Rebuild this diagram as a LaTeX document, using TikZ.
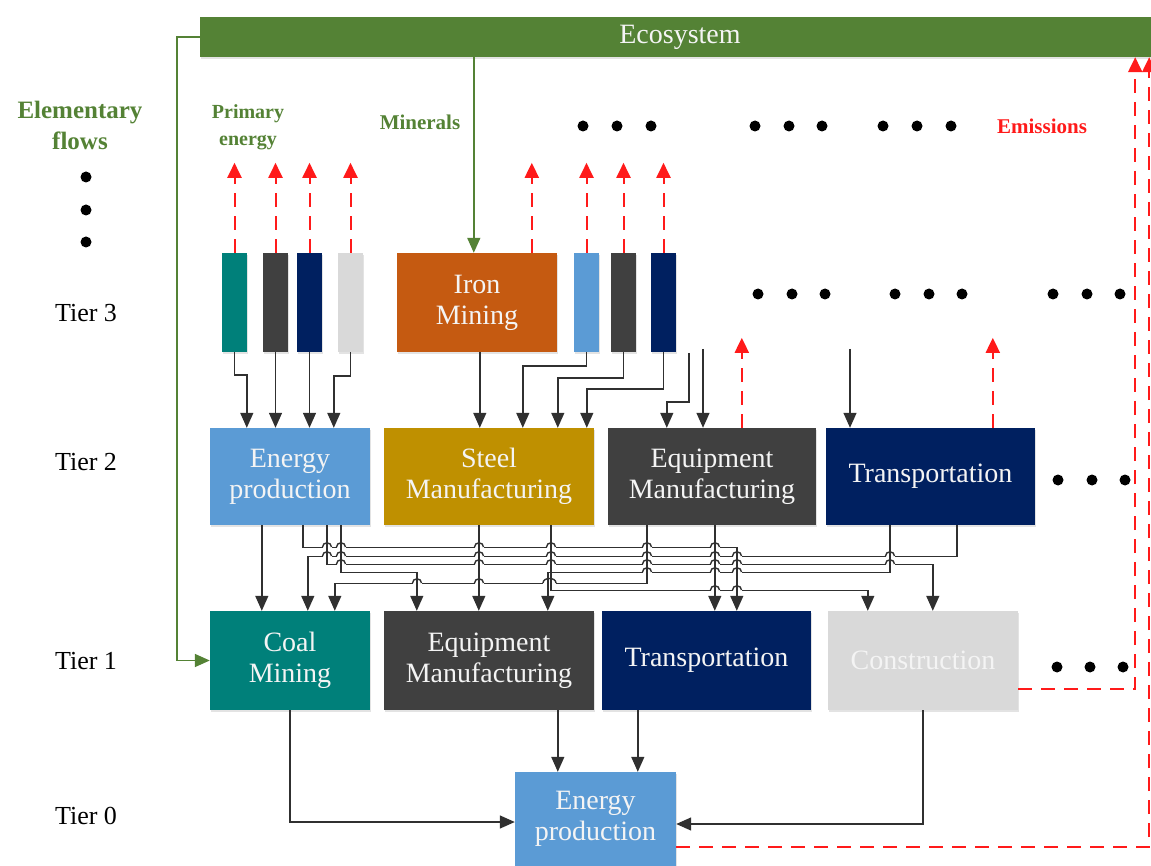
\documentclass[tikz,border=0pt]{standalone}
\usepackage{fontspec}
\setmainfont{Liberation Serif}
\usetikzlibrary{arrows.meta,shadows}
\definecolor{ecogreen}{HTML}{548235}
\definecolor{teal3}{HTML}{00807A}
\definecolor{dgrey}{HTML}{404040}
\definecolor{navy}{HTML}{002060}
\definecolor{lgrey}{HTML}{D9D9D9}
\definecolor{orng}{HTML}{C55A11}
\definecolor{lblue}{HTML}{5B9BD5}
\definecolor{gold}{HTML}{BF9000}
\definecolor{wirec}{HTML}{303030}
\definecolor{txt}{HTML}{F4F4F4}
\definecolor{emred}{HTML}{FF1A1A}
\newcommand\boxfont{\fontsize{28}{31}\selectfont}
\newcommand\crosshop[2]{%
  \fill[white] (#1-4.5,#2-1.6) rectangle (#1+4.5,#2+1.6);
  \draw[wire] (#1-4.5,#2) .. controls (#1-4.5,#2-5.5) and (#1+4.5,#2-5.5) .. (#1+4.5,#2);
  \draw[wire] (#1,#2-3) -- (#1,#2+3);}
\tikzset{
  box/.style={draw=none, inner sep=0pt, align=center, text=txt, font=\boxfont,
    drop shadow={shadow xshift=1pt, shadow yshift=-2pt, opacity=0.18, fill=black!60}},
  wire/.style={draw=wirec, line width=1.4pt},
  conn/.style={wire, -{Triangle[width=13pt,length=15pt]}},
  emis/.style={draw=emred, line width=2pt, dash pattern=on 14pt off 9pt, -{Triangle[width=14pt,length=15pt,fill=emred]}},
  gflow/.style={draw=ecogreen, line width=1.6pt, -{Triangle[width=13pt,length=15pt]}},
  lab/.style={inner sep=0pt, align=center},
}
\begin{document}
\begin{tikzpicture}[x=1pt,y=-1pt]
\useasboundingbox (0,0) rectangle (1151,866);

% Ecosystem
\node[box, fill=ecogreen, minimum width=960pt, minimum height=40pt] (eco) at (680,37) {\raisebox{-2pt}{Ecosystem}};

% labels
\node[lab, text=ecogreen, font=\bfseries\fontsize{25}{31}\selectfont] (elem) at (80,125) {Elementary\\flows};
\node[lab, text=ecogreen, font=\bfseries\fontsize{20}{27}\selectfont] (prim) at (248,127) {Primary\\energy};
\node[lab, text=ecogreen, font=\bfseries\fontsize{21}{25}\selectfont] (mine) at (420,122) {Minerals};
\node[lab, text=emred, font=\bfseries\fontsize{21}{25}\selectfont] (emi) at (1042,126) {Emissions};
\node[lab, font=\fontsize{26}{30}\selectfont] (tier3) at (86,313) {Tier 3};
\node[lab, font=\fontsize{26}{30}\selectfont] (tier2) at (86,462) {Tier 2};
\node[lab, font=\fontsize{26}{30}\selectfont] (tier1) at (86,661) {Tier 1};
\node[lab, font=\fontsize{26}{30}\selectfont] (tier0) at (86,816) {Tier 0};

% dots
\foreach \y in {177,210,242} {\fill (86,\y) circle[radius=5.5pt];}
\foreach \x in {583,617,651,755,789,822,883,917,951} {\fill (\x,126) circle[radius=5.5pt];}
\foreach \x in {758,792,825,895,929,962,1053,1087,1120} {\fill (\x,294) circle[radius=5.5pt];}
\foreach \x in {1058,1092,1125} {\fill (\x,480) circle[radius=5.5pt];}
\foreach \x in {1057,1090,1123} {\fill (\x,667) circle[radius=5.5pt];}

% Tier 3
\node[box, fill=teal3, minimum width=25pt, minimum height=99pt] (t3a) at (234.5,302.5) {};
\node[box, fill=dgrey, minimum width=25pt, minimum height=99pt] (t3b) at (275.5,302.5) {};
\node[box, fill=navy, minimum width=25pt, minimum height=99pt] (t3c) at (309.5,302.5) {};
\node[box, fill=lgrey, minimum width=25pt, minimum height=99pt] (t3d) at (350.5,302.5) {};
\node[box, fill=orng, minimum width=160pt, minimum height=99pt] (iron) at (477,302.5) {Iron\\Mining};
\node[box, fill=lblue, minimum width=25pt, minimum height=99pt] (t3e) at (586.5,302.5) {};
\node[box, fill=dgrey, minimum width=25pt, minimum height=99pt] (t3f) at (623.5,302.5) {};
\node[box, fill=navy, minimum width=25pt, minimum height=99pt] (t3g) at (663.5,302.5) {};

% Tier 2
\node[box, fill=lblue, minimum width=160pt, minimum height=97pt] (E2) at (290,476.5) {Energy\\production};
\node[box, fill=gold, minimum width=210pt, minimum height=97pt] (S2) at (489,476.5) {Steel\\Manufacturing};
\node[box, fill=dgrey, minimum width=208pt, minimum height=97pt] (Q2) at (712,476.5) {Equipment\\Manufacturing};
\node[box, fill=navy, minimum width=209pt, minimum height=97pt] (T2) at (930.5,476.5) {Transportation};

% Tier 1
\node[box, fill=teal3, minimum width=160pt, minimum height=99pt] (CM) at (290,660.5) {Coal\\Mining};
\node[box, fill=dgrey, minimum width=210pt, minimum height=99pt] (Q1) at (489,660.5) {Equipment\\Manufacturing};
\node[box, fill=navy, minimum width=209pt, minimum height=99pt] (T1) at (706.5,660.5) {Transportation};
\node[box, fill=lgrey, minimum width=190pt, minimum height=99pt] (Con) at (923,660.5) {Construction};

% Tier 0
\node[box, fill=lblue, minimum width=161pt, minimum height=94pt] (E0) at (595.5,819) {Energy\\production};

% green flows
\draw[gflow] (eco.west) -- ++(-23,0) |- (CM.west);
\draw[gflow] ([xshift=274pt]eco.south west) -- ([xshift=77pt]iron.north west);

% emissions
\foreach \n in {t3a,t3b,t3c,t3d,t3e,t3f,t3g} {\draw[emis] (\n.north) -- ++(0,-90);}
\draw[emis] ([xshift=135pt]iron.north west) -- ++(0,-90);
\draw[emis] ([xshift=134pt]Q2.north west) -- ++(0,-90);
\draw[emis] ([xshift=167pt]T2.north west) -- ++(0,-90);
\draw[emis] ([yshift=-28.5pt]Con.east) -| ([xshift=-25pt]eco.south east);
\draw[emis] ([yshift=-28pt]E0.east) -| ([xshift=-11pt]eco.south east);

% tier 3 -> tier 2
\draw[conn] (t3a.south) -- ++(0,23) -| ([xshift=37pt]E2.north west);
\draw[conn] (t3b.south) -- (t3b.south |- E2.north);
\draw[conn] (t3c.south) -- (t3c.south |- E2.north);
\draw[conn] (t3d.south) -- ++(0,24) -| ([xshift=124pt]E2.north west);
\draw[conn] ([xshift=83pt]iron.south west) -- ([xshift=96pt]S2.north west);
\draw[conn] (t3e.south) -- ++(0,14) -| ([xshift=139pt]S2.north west);
\draw[conn] (t3f.south) -- ++(0,26) -| ([xshift=174pt]S2.north west);
\draw[conn] (t3g.south) -- ++(0,37) -| ([xshift=203pt]S2.north west);
\coordinate (q2ina) at (689,353);
\coordinate (q2inb) at (703,349);
\coordinate (t2in) at (850,349);
\draw[conn] (q2ina) -- ++(0,49) -| ([xshift=59pt]Q2.north west);
\draw[conn] (q2inb) -- (q2inb |- Q2.north);
\draw[conn] (t2in) -- (t2in |- T2.north);

% tier 2 -> tier 1
\draw[conn] ([xshift=52pt]E2.south west) -- ([xshift=52pt]CM.north west);
\draw[conn] ([xshift=93pt]E2.south west) -- ++(0,22) -| ([xshift=135pt]T1.north west);
\draw[conn] ([xshift=131pt]T2.south west) -- ++(0,31) -| ([xshift=98pt]CM.north west);
\draw[conn] ([xshift=117pt]E2.south west) -- ++(0,39) -| ([xshift=105pt]Con.north west);
\draw[conn] ([xshift=64pt]T2.south west) -- ++(0,47) -| ([xshift=164pt]Q1.north west);
\draw[conn] ([xshift=131pt]E2.south west) -- ++(0,47) -| ([xshift=33pt]Q1.north west);
\draw[conn] ([xshift=39pt]Q2.south west) -- ++(0,58) -| ([xshift=125pt]CM.north west);
\draw[conn] ([xshift=167pt]S2.south west) -- ++(0,65) -| ([xshift=40pt]Con.north west);
\draw[conn] ([xshift=95pt]S2.south west) -- ([xshift=95pt]Q1.north west);
\draw[conn] ([xshift=107pt]Q2.south west) -- ([xshift=113pt]T1.north west);

% hops
\foreach \x in {327,341,479,551,647,715} {\crosshop{\x}{547}}
\foreach \x in {327,341,479,551,647,715,737,890} {\crosshop{\x}{556}}
\foreach \x in {341,479,551,647,715,737,890} {\crosshop{\x}{564}}
\foreach \x in {647,715,737} {\crosshop{\x}{572}}
\foreach \x in {417,479} {\crosshop{\x}{583}}
\foreach \x in {715,737} {\crosshop{\x}{590}}
\fill[white] (543,581.4) rectangle (556,584.6);
\draw[wire] (543,583) .. controls (543,577) and (556,577) .. (556,583);
\draw[wire] (548,579) -- (548,587);
\draw[wire] (551,579) -- (551,587);

% tier 1 -> tier 0
\draw[conn] (CM.south) |- ([yshift=-3pt]E0.west);
\draw[conn] ([xshift=174pt]Q1.south west) -- ([xshift=43pt]E0.north west);
\draw[conn] ([xshift=36pt]T1.south west) -- ([xshift=123pt]E0.north west);
\draw[conn] (Con.south) |- ([yshift=-5pt]E0.east);
\end{tikzpicture}
\end{document}
